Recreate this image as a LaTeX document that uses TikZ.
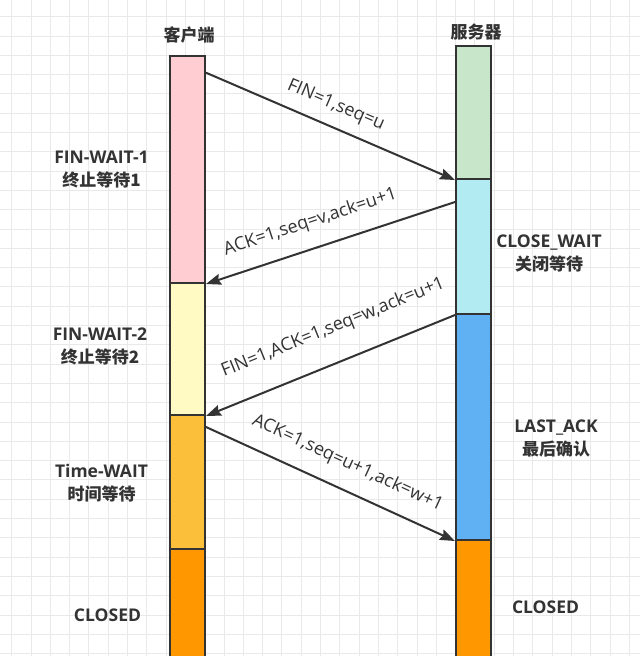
\documentclass[tikz,border=0pt]{standalone}
\usepackage{fontspec}
\setmainfont{Open Sans}
\newfontfamily\cjk{Noto Sans CJK SC}
\usetikzlibrary{arrows.meta,calc}
\definecolor{ink}{HTML}{333333}
\definecolor{gridc}{HTML}{E9E9E9}
\definecolor{cpink}{HTML}{FFCDD2}
\definecolor{cyellow}{HTML}{FFF9C4}
\definecolor{ctime}{HTML}{FBBF3A}
\definecolor{corange}{HTML}{FF9800}
\definecolor{cgreen}{HTML}{C8E6C9}
\definecolor{clblue}{HTML}{B2EBF2}
\definecolor{cblue}{HTML}{60B0F4}
\tikzset{
  seg/.style={draw=ink, line width=2pt, minimum width=35pt, inner sep=0pt, anchor=north west},
  msg/.style={draw=ink, line width=2pt, -{Stealth[length=15pt,width=11pt,inset=2pt]}},
  msglbl/.style={font=\fontsize{18}{21}\selectfont, text=ink, inner sep=0pt, anchor=center},
  state/.style={font=\bfseries\fontsize{17.5}{23}\selectfont, text=ink, align=center, inner sep=0pt},
}
\begin{document}
\begin{tikzpicture}[x=1pt,y=-1pt]
\useasboundingbox (0,0) rectangle (640,656);
\clip (0,0) rectangle (640,656);
\fill[white] (0,0) rectangle (640,656);
\foreach \i in {0,...,33} {
  \draw[gridc, line width=1pt] ({11.7+19.3*\i},0) -- ({11.7+19.3*\i},656);
  \draw[gridc, line width=1pt] (0,{16.7+19.3*\i}) -- (640,{16.7+19.3*\i});
}
% client bar
\node[seg, fill=cpink, minimum height=227pt] (c1) at (169,55) {};
\node[seg, fill=cyellow, minimum height=132pt] (c2) at (169,282) {};
\node[seg, fill=ctime, minimum height=134pt] (c3) at (169,414) {};
\node[seg, fill=corange, minimum height=130pt] (c4) at (169,548) {};
% server bar
\node[seg, fill=cgreen, minimum height=133pt] (s1) at (455,45) {};
\node[seg, fill=clblue, minimum height=135pt] (s2) at (455,178) {};
\node[seg, fill=cblue, minimum height=226pt] (s3) at (455,313) {};
\node[seg, fill=corange, minimum height=130pt] (s4) at (455,539) {};
% headers
\node[state] (hc) at (189,35) {\cjk\fontsize{17}{23}\selectfont 客户端};
\node[state] (hs) at (476,32) {\cjk\fontsize{17}{23}\selectfont 服务器};
% state labels
\node[state] (l1) at (101.5,170) {FIN-WAIT-1\\{\cjk\fontsize{17}{23}\selectfont 终止等待1}};
\node[state] (l2) at (100,346) {FIN-WAIT-2\\{\cjk\fontsize{17}{23}\selectfont 终止等待2}};
\node[state] (l3) at (101.5,483) {Time-WAIT\\{\cjk\fontsize{17}{23}\selectfont 时间等待}};
\node[state] (l4) at (107.5,615) {CLOSED};
\node[state] (r1) at (549,253) {CLOSE\_WAIT\\{\cjk\fontsize{17}{23}\selectfont 关闭等待}};
\node[state] (r2) at (556,438) {LAST\_ACK\\{\cjk\fontsize{17}{23}\selectfont 最后确认}};
\node[state] (r3) at (545.5,607) {CLOSED};
% messages
\draw[msg] ($(c1.north east)+(0,17.7)$) -- (s1.south west)
  node[msglbl, pos=0.488, sloped, yshift=21pt] {FIN=1,seq=u};
\draw[msg] ($(s2.north west)+(0,24)$) -- (c1.south east)
  node[msglbl, pos=0.548, sloped, yshift=26pt] {ACK=1,seq=v,ack=u+1};
\draw[msg] (s2.south west) -- (c2.south east)
  node[msglbl, pos=0.438, sloped, yshift=34pt] {FIN=1,ACK=1,seq=w,ack=u+1};
\draw[msg] ($(c3.north east)+(0,13)$) -- (s3.south west)
  node[msglbl, pos=0.525, sloped, yshift=26pt] {ACK=1,seq=u+1,ack=w+1};
\end{tikzpicture}
\end{document}
